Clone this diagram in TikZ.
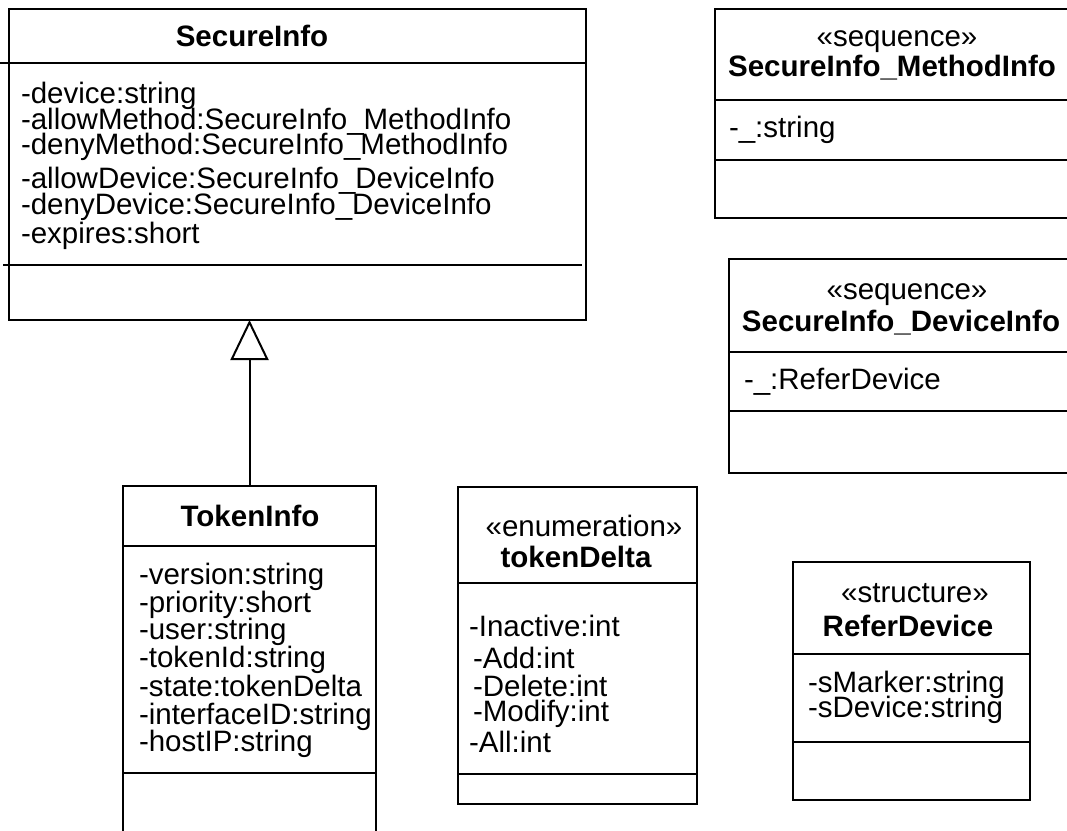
\documentclass[tikz,border=0pt]{standalone}
\usepackage{fontspec}
\setmainfont{Liberation Sans}
\usetikzlibrary{arrows.meta}
\newcommand\umltext{\fontsize{29.5}{29.5}\selectfont}
\newcommand\umlbold{\fontsize{29.5}{29.5}\selectfont\bfseries}

\begin{document}
\begin{tikzpicture}[x=1pt,y=-1pt,line width=2pt,
  classbox/.style={draw, rectangle, inner sep=0pt, outer sep=0pt},
  area/.style={rectangle, inner sep=0pt, outer sep=0pt},
  txt/.style={inner sep=0pt, text height=21pt, text depth=6pt, yshift=-2pt},
  attr/.style={txt, anchor=west, font=\umltext},
  stereo/.style={txt, font=\umltext},
  cname/.style={txt, font=\umlbold},
  genarrow/.style={-{Triangle[open, length=40pt, width=38pt]}}
]
\clip (0,0) rectangle (1067,830);
\fill[white] (0,0) rectangle (1067,830);

% ---- SecureInfo ----
\node[classbox, minimum width=577pt, minimum height=311pt] (secure) at (297.5,164.5) {};
\draw (0,63) -- (586,63);
\draw (3,265) -- (582,265);
\node[cname] (secureT) at (252,37) {SecureInfo};
\node[attr] (sa1) at (20,94)  {-device:string};
\node[attr] (sa2) at (20,120) {-allowMethod:SecureInfo\_MethodInfo};
\node[attr] (sa3) at (20,145) {-denyMethod:SecureInfo\_MethodInfo};
\node[attr] (sa4) at (20,179) {-allowDevice:SecureInfo\_DeviceInfo};
\node[attr] (sa5) at (20,205) {-denyDevice:SecureInfo\_DeviceInfo};
\node[attr] (sa6) at (20,234) {-expires:short};

% ---- SecureInfo_MethodInfo ----
\node[classbox, minimum width=355pt, minimum height=209pt] (method) at (892.5,113.5) {};
\draw (715,100) -- (1070,100);
\draw (715,160) -- (1070,160);
\node[stereo] (methodS) at (897,37) {«sequence»};
\node[cname] (methodT) at (892,67) {SecureInfo\_MethodInfo};
\node[attr] (ma1) at (728,128) {-\_:string};

% ---- SecureInfo_DeviceInfo ----
\node[classbox, minimum width=344pt, minimum height=214pt] (device) at (901,366) {};
\draw (729,352) -- (1073,352);
\draw (729,411) -- (1073,411);
\node[stereo] (deviceS) at (907,290) {«sequence»};
\node[cname] (deviceT) at (901,322) {SecureInfo\_DeviceInfo};
\node[attr] (da1) at (743,380) {-\_:ReferDevice};

% ---- TokenInfo (runs past the lower edge) ----
\node[area, minimum width=253pt, minimum height=354pt] (token) at (249.5,663) {};
\draw (token.south west) -- (token.north west) -- (token.north east) -- (token.south east);
\draw (123,546) -- (376,546);
\draw (123,773) -- (376,773);
\node[cname] (tokenT) at (250,517) {TokenInfo};
\node[attr] (ta1) at (138,575) {-version:string};
\node[attr] (ta2) at (138,603) {-priority:short};
\node[attr] (ta3) at (138,630) {-user:string};
\node[attr] (ta4) at (138,658) {-tokenId:string};
\node[attr] (ta5) at (138,687) {-state:tokenDelta};
\node[attr] (ta6) at (138,715) {-interfaceID:string};
\node[attr] (ta7) at (138,742) {-hostIP:string};

% ---- tokenDelta ----
\node[classbox, minimum width=239pt, minimum height=317pt] (delta) at (577.5,645.5) {};
\draw (458,583) -- (697,583);
\draw (458,774) -- (697,774);
\node[stereo] (deltaS) at (584,527) {«enumeration»};
\node[cname] (deltaT) at (576,558) {tokenDelta};
\node[attr] (ea1) at (468,627) {-Inactive:int};
\node[attr] (ea2) at (472,659) {-Add:int};
\node[attr] (ea3) at (472,687) {-Delete:int};
\node[attr] (ea4) at (472,712) {-Modify:int};
\node[attr] (ea5) at (468,743) {-All:int};

% ---- ReferDevice ----
\node[classbox, minimum width=237pt, minimum height=238pt] (refer) at (911.5,681) {};
\draw (793,654) -- (1030,654);
\draw (793,742) -- (1030,742);
\node[stereo] (referS) at (915,593) {«structure»};
\node[cname] (referT) at (908,627) {ReferDevice};
\node[attr] (ra1) at (807,683) {-sMarker:string};
\node[attr] (ra2) at (807,708) {-sDevice:string};

% ---- generalization TokenInfo -> SecureInfo ----
\draw[genarrow] (token.north) -- (token.north |- secure.south);
\end{tikzpicture}
\end{document}
